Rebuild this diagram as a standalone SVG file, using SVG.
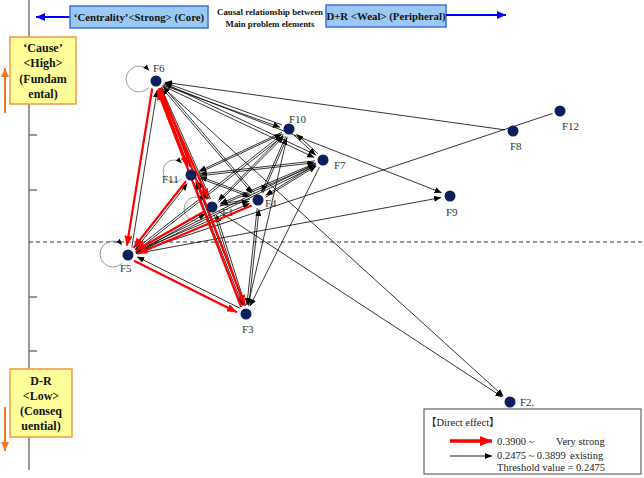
<svg xmlns="http://www.w3.org/2000/svg" width="644" height="478" viewBox="0 0 644 478">
<defs>
<marker id="ab" markerUnits="userSpaceOnUse" markerWidth="7" markerHeight="6" refX="7" refY="3" orient="auto"><path d="M0,0 L7,3 L0,6 z" fill="#000"/></marker>
<marker id="ar" markerUnits="userSpaceOnUse" markerWidth="10" markerHeight="8" refX="10" refY="4" orient="auto"><path d="M0,0 L10,4 L0,8 z" fill="#f00"/></marker>
<marker id="ag" markerUnits="userSpaceOnUse" markerWidth="6" markerHeight="5" refX="6" refY="2.5" orient="auto"><path d="M0,0 L6,2.5 L0,5 z" fill="#000"/></marker>
<marker id="abl" markerUnits="userSpaceOnUse" markerWidth="9" markerHeight="8" refX="9" refY="4" orient="auto"><path d="M0,0 L9,4 L0,8 z" fill="#0000ff"/></marker>
<marker id="aor" markerUnits="userSpaceOnUse" markerWidth="9" markerHeight="8" refX="9" refY="4" orient="auto"><path d="M0,0 L9,4 L0,8 z" fill="#f47a20"/></marker>
<marker id="alr" markerUnits="userSpaceOnUse" markerWidth="12" markerHeight="10" refX="12" refY="5" orient="auto"><path d="M0,0 L12,5 L0,10 z" fill="#f00"/></marker>
</defs>
<style>
.bk{stroke:#000;stroke-width:0.8;fill:none;marker-end:url(#ab)}
.rd{stroke:#f00;stroke-width:2.2;fill:none;marker-end:url(#ar)}
.lp{stroke:#808080;stroke-width:0.8;fill:none;marker-end:url(#ag)}
.nd{fill:#0a1f5c}
.lb{font-family:"Liberation Serif",serif;font-size:11px;fill:#333}
.hd{font-family:"Liberation Serif",serif;font-weight:bold;fill:#111}
.bb{fill:#9cc8f4;stroke:#3f6fd8;stroke-width:1.5}
.yb{fill:#ffff99;stroke:#f79646;stroke-width:1.5}
.lg{font-family:"Liberation Serif","Noto Sans CJK JP",serif;font-size:10.5px;fill:#222}
</style>

<g id="axes">
<line x1="29" y1="0" x2="29" y2="470" stroke="#555" stroke-width="1.2"/>
<line x1="29" y1="135" x2="37" y2="135" stroke="#555" stroke-width="1.2"/>
<line x1="29" y1="190" x2="37" y2="190" stroke="#555" stroke-width="1.2"/>
<line x1="29" y1="297" x2="37" y2="297" stroke="#555" stroke-width="1.2"/>
<line x1="29" y1="351" x2="37" y2="351" stroke="#555" stroke-width="1.2"/>
<line x1="29" y1="242" x2="644" y2="242" stroke="#333" stroke-width="1" stroke-dasharray="4,3"/>
</g>

<g id="header">
<line x1="70" y1="17" x2="36" y2="17" stroke="#0000ff" stroke-width="2" marker-end="url(#abl)"/>
<rect class="bb" x="70" y="6" width="138" height="22"/>
<text class="hd" x="139" y="21" font-size="10.8" text-anchor="middle">‘Centrality’&lt;Strong&gt; (Core)</text>
<text class="hd" x="270" y="15" font-size="8.8" text-anchor="middle">Causal relationship between</text>
<text class="hd" x="270" y="27" font-size="8.8" text-anchor="middle">Main problem elements</text>
<rect class="bb" x="326" y="5" width="120" height="22"/>
<text class="hd" x="386" y="20" font-size="10.8" text-anchor="middle">D+R &lt;Weal&gt; (Peripheral)</text>
<line x1="446" y1="15" x2="506" y2="15" stroke="#0000ff" stroke-width="2" marker-end="url(#abl)"/>
</g>

<g id="cause-box">
<line x1="5" y1="113" x2="5" y2="68" stroke="#f47a20" stroke-width="2" marker-end="url(#aor)"/>
<rect class="yb" x="10" y="37" width="66" height="67"/>
<text class="hd" font-size="12" text-anchor="middle"><tspan x="43" y="52">‘Cause’</tspan><tspan x="43" y="67">&lt;High&gt;</tspan><tspan x="43" y="83">(Fundam</tspan><tspan x="43" y="98">ental)</tspan></text>
</g>

<g id="effect-box">
<line x1="5" y1="407" x2="5" y2="451" stroke="#f47a20" stroke-width="2" marker-end="url(#aor)"/>
<rect class="yb" x="10" y="369" width="62" height="68"/>
<text class="hd" font-size="12" text-anchor="middle"><tspan x="41" y="385">D-R</tspan><tspan x="41" y="400">&lt;Low&gt;</tspan><tspan x="41" y="415">(Conseq</tspan><tspan x="41" y="430">uential)</tspan></text>
</g>

<g id="legend">
<rect x="424" y="409" width="217" height="65" fill="#fff" stroke="#444" stroke-width="1"/>
<text class="lg" x="426" y="426" font-size="12">【Direct effect】</text>
<line x1="450" y1="441" x2="492" y2="441" stroke="#f00" stroke-width="3.5" marker-end="url(#alr)"/>
<text class="lg" x="497" y="445">0.3900 ~</text>
<text class="lg" x="556" y="445">Very strong</text>
<line x1="450" y1="456" x2="492" y2="456" stroke="#000" stroke-width="0.9" marker-end="url(#ab)"/>
<text class="lg" x="497" y="459" font-size="9.5">0.2475 ~ 0.3899</text>
<text class="lg" x="570" y="459">existing</text>
<text class="lg" x="497" y="471">Threshold value = 0.2475</text>
</g>

<g id="connectors">
<path class="lp" d="M149,87.4 A13,13 0 1 1 149,70.6"/>
<path class="lp" d="M181.8,178.8 A11,11 0 1 1 181.8,163.2"/>
<path class="lp" d="M204.5,217.5 A12,12 0 1 1 204.5,200.5"/>
<path class="lp" d="M122.2,263.2 A13,13 0 1 1 122.2,244.8"/>

<line class="bk" x1="163.0" y1="85.1" x2="280.0" y2="127.3"/>
<line class="bk" x1="282.0" y1="124.9" x2="165.0" y2="82.7"/>
<line class="bk" x1="162.6" y1="85.8" x2="314.3" y2="157.5"/>
<line class="bk" x1="316.4" y1="155.2" x2="164.7" y2="83.5"/>
<line class="bk" x1="294.1" y1="135.3" x2="315.5" y2="154.8"/>
<line class="bk" x1="317.9" y1="153.7" x2="296.5" y2="134.2"/>
<line class="bk" x1="281.8" y1="132.4" x2="199.1" y2="171.2"/>
<line class="bk" x1="198.8" y1="173.0" x2="281.5" y2="134.2"/>
<line class="bk" x1="315.0" y1="160.9" x2="199.9" y2="174.0"/>
<line class="bk" x1="199.2" y1="175.9" x2="314.3" y2="162.8"/>
<line class="bk" x1="283.4" y1="134.7" x2="218.3" y2="200.6"/>
<line class="bk" x1="218.7" y1="202.4" x2="283.8" y2="136.5"/>
<line class="bk" x1="315.6" y1="163.1" x2="220.3" y2="203.5"/>
<line class="bk" x1="220.0" y1="205.4" x2="315.3" y2="165.0"/>
<line class="bk" x1="316.2" y1="164.2" x2="265.7" y2="195.3"/>
<line class="bk" x1="265.6" y1="197.2" x2="316.1" y2="166.1"/>
<line class="bk" x1="285.8" y1="136.3" x2="261.6" y2="191.8"/>
<line class="bk" x1="262.8" y1="193.4" x2="287.0" y2="137.9"/>
<line class="bk" x1="161.2" y1="87.1" x2="252.1" y2="193.2"/>
<line class="bk" x1="254.2" y1="192.7" x2="163.3" y2="86.6"/>
<line class="bk" x1="190.1" y1="166.8" x2="161.0" y2="88.7"/>
<line class="bk" x1="210.6" y1="198.9" x2="161.5" y2="88.4"/>
<line class="bk" x1="193.9" y1="182.4" x2="242.7" y2="305.6"/>
<line class="bk" x1="244.8" y1="305.9" x2="196.0" y2="182.7"/>
<line class="bk" x1="214.4" y1="214.6" x2="243.3" y2="305.4"/>
<line class="bk" x1="245.5" y1="305.8" x2="216.6" y2="215.0"/>
<line class="bk" x1="257.2" y1="208.0" x2="246.9" y2="305.0"/>
<line class="bk" x1="248.8" y1="306.2" x2="259.1" y2="209.2"/>
<line class="bk" x1="287.2" y1="136.8" x2="248.0" y2="305.2"/>
<line class="bk" x1="319.4" y1="167.2" x2="250.0" y2="306.0"/>
<line class="bk" x1="195.4" y1="181.7" x2="207.1" y2="199.5"/>
<line class="bk" x1="209.3" y1="199.2" x2="197.6" y2="181.4"/>
<line class="bk" x1="198.5" y1="177.8" x2="249.6" y2="196.8"/>
<line class="bk" x1="251.1" y1="195.5" x2="200.0" y2="176.5"/>
<line class="bk" x1="219.9" y1="205.8" x2="249.1" y2="201.4"/>
<line class="bk" x1="249.8" y1="199.4" x2="220.6" y2="203.8"/>
<line class="bk" x1="131.8" y1="247.5" x2="157.1" y2="90.3"/>
<line class="bk" x1="135.0" y1="250.2" x2="187.4" y2="183.6"/>
<line class="bk" x1="136.1" y1="253.2" x2="205.4" y2="213.7"/>
<line class="bk" x1="135.4" y1="251.9" x2="249.7" y2="203.5"/>
<line class="bk" x1="282.7" y1="133.9" x2="135.1" y2="249.5"/>
<line class="bk" x1="135.5" y1="251.7" x2="283.1" y2="136.1"/>
<line class="bk" x1="315.8" y1="163.5" x2="136.1" y2="251.1"/>
<line class="bk" x1="136.1" y1="253.3" x2="315.8" y2="165.7"/>
<line class="bk" x1="239.9" y1="308.2" x2="137.1" y2="256.8"/>
<line class="bk" x1="505.1" y1="129.9" x2="164.9" y2="82.3"/>
<line class="bk" x1="552.4" y1="113.5" x2="136.5" y2="252.2"/>
<line class="bk" x1="135.9" y1="253.6" x2="441.1" y2="197.6"/>
<line class="bk" x1="163.4" y1="83.9" x2="441.6" y2="192.7"/>
<line class="bk" x1="161.9" y1="86.4" x2="503.3" y2="396.0"/>
<line class="bk" x1="218.7" y1="211.4" x2="502.5" y2="397.1"/>

<line class="rd" x1="152.2" y1="88.5" x2="126.9" y2="245.7"/>
<line class="rd" x1="158.8" y1="88.5" x2="187.9" y2="166.6"/>
<line class="rd" x1="159.2" y1="88.3" x2="208.3" y2="198.8"/>
<line class="rd" x1="160.8" y1="87.8" x2="244.7" y2="304.9"/>
<line class="rd" x1="241.2" y1="307.2" x2="157.3" y2="90.1"/>
<line class="rd" x1="186.0" y1="181.3" x2="133.6" y2="247.9"/>
<line class="rd" x1="205.1" y1="211.0" x2="135.8" y2="250.5"/>
<line class="rd" x1="251.6" y1="205.4" x2="137.3" y2="253.8"/>
<line class="rd" x1="134.1" y1="260.8" x2="236.9" y2="312.2"/>
</g>

<g id="F6"><circle class="nd" cx="156" cy="81" r="5.5"/><text class="lb" x="153" y="72">F6</text></g>
<g id="F10"><circle class="nd" cx="289" cy="129" r="5.5"/><text class="lb" x="289" y="123">F10</text></g>
<g id="F7"><circle class="nd" cx="323" cy="160" r="5.5"/><text class="lb" x="334" y="169">F7</text></g>
<g id="F11"><circle class="nd" cx="191" cy="175" r="5.5"/><text class="lb" x="162" y="183">F11</text></g>
<g id="F1"><circle class="nd" cx="212" cy="207" r="5.5"/><text class="lb" x="222" y="216">F1</text></g>
<g id="F4"><circle class="nd" cx="258" cy="200" r="5.5"/><text class="lb" x="265" y="207">F4</text></g>
<g id="F5"><circle class="nd" cx="128" cy="255" r="5.5"/><text class="lb" x="120" y="272">F5</text></g>
<g id="F3"><circle class="nd" cx="246" cy="314" r="5.5"/><text class="lb" x="242" y="333">F3</text></g>
<g id="F9"><circle class="nd" cx="450" cy="196" r="5.5"/><text class="lb" x="446" y="216">F9</text></g>
<g id="F8"><circle class="nd" cx="513" cy="131" r="5.5"/><text class="lb" x="510" y="150">F8</text></g>
<g id="F12"><circle class="nd" cx="560" cy="111" r="5.5"/><text class="lb" x="562" y="130">F12</text></g>
<g id="F2"><circle class="nd" cx="510" cy="402" r="5.5"/><text class="lb" x="520" y="406">F2.</text></g>
</svg>
